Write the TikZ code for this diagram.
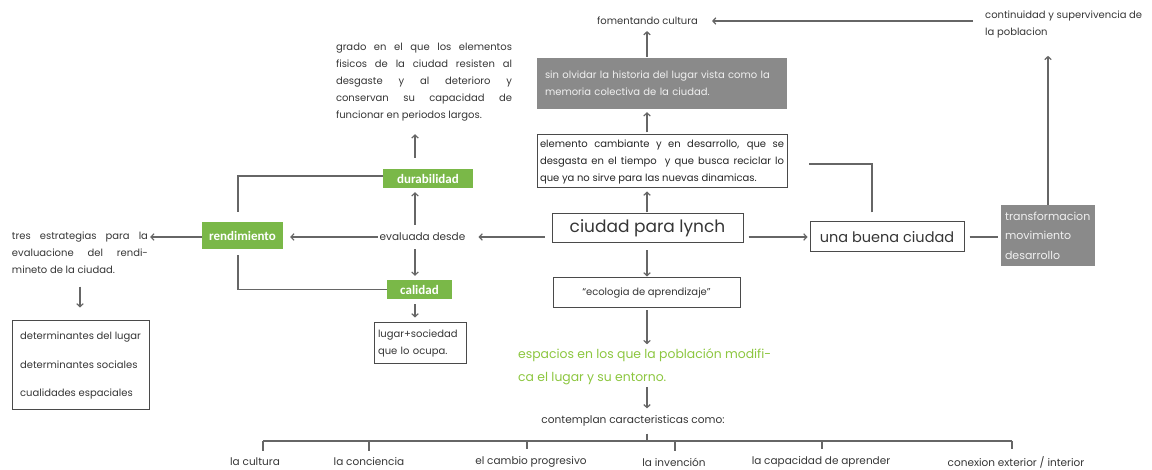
\documentclass[tikz,border=0pt]{standalone}
\usepackage{fontspec}
\setmainfont{Poppins}
\newfontfamily\calib{Carlito}
\usetikzlibrary{arrows.meta}
\definecolor{linec}{HTML}{666666}
\definecolor{txt}{HTML}{363636}
\definecolor{boxc}{HTML}{4A4A4A}
\definecolor{greenc}{HTML}{7AB848}
\definecolor{lgreen}{HTML}{8CC63F}
\definecolor{grayc}{HTML}{8A8A8A}
\newcommand{\fsz}[2]{\fontsize{#1}{#2}\selectfont}
\tikzset{
  conn/.style={draw=linec, line width=1.2pt},
  arr/.style={conn, -{Straight Barb[length=3pt,width=6.5pt]}},
  txtn/.style={text=txt, inner sep=2pt, font=\fsz{10}{17}},
  leaf/.style={text=txt, inner sep=2pt, font=\fsz{10.5}{17}},
  wbox/.style={draw=boxc, line width=1pt, fill=white, text=txt, inner sep=2pt, font=\fsz{10}{17}},
  gbox/.style={fill=greenc, text=white, inner sep=0pt, font=\calib\bfseries\fsz{13}{15}},
  dbox/.style={fill=grayc, text=white!94!black, inner sep=0pt},
}
\begin{document}
\begin{tikzpicture}[x=1pt,y=-1pt]
\useasboundingbox (0,0) rectangle (1152,470);
% nodes
\node[txtn] (fom) at (647.5,21) {fomentando cultura};
\node[txtn, anchor=west, align=left] (cont) at (983,24) {continuidad y supervivencia de\\la poblacion};
\node[txtn, text width=176pt, align=justify] (grado) at (424,82) {grado en el que los elementos\linebreak fisicos de la ciudad resisten al\linebreak desgaste y al deterioro y\linebreak conservan su capacidad de\linebreak funcionar en periodos largos.};
\node[dbox, minimum width=250pt, minimum height=51pt, text width=234pt, inner xsep=8pt, align=left, font=\fsz{10}{17}] (sin) at (662,83.5) {sin olvidar la historia del lugar vista como la\\memoria colectiva de la ciudad.};
\node[wbox, text width=244pt, inner xsep=3pt, align=justify, minimum height=53pt, text=black!85] (elem) at (662,161.5) {elemento cambiante y en desarrollo, que se\linebreak desgasta en el tiempo \ y que busca reciclar lo\linebreak que ya no sirve para las nuevas dinamicas.};
\node[gbox, minimum width=90pt, minimum height=19pt] (dur) at (428,179) {durabilidad};
\node[wbox, minimum width=191pt, minimum height=29pt, font=\fsz{17}{20}] (lynch) at (647.5,228.5) {ciudad para lynch};
\node[txtn, font=\fsz{10.5}{17}] (eval) at (422.5,237) {evaluada desde};
\node[gbox, minimum width=81pt, minimum height=27pt] (rend) at (242.5,235.5) {rendimiento};
\node[txtn, text width=136pt, align=justify] (tres) at (80,252.5) {tres estrategias para la\linebreak evaluacione del rendi-\linebreak mineto de la ciudad.};
\node[wbox, minimum width=137pt, minimum height=89pt, align=left, font=\fsz{10}{28.5}] (det) at (80.5,365.5) {determinantes del lugar\\determinantes sociales\\cualidades espaciales};
\node[gbox, minimum width=65pt, minimum height=19pt] (cal) at (419.5,289.5) {calidad};
\node[wbox, minimum width=92pt, minimum height=41pt, text width=84pt, inner xsep=4pt, align=left] (lugar) at (420,343.5) {lugar+sociedad\\que lo ocupa.};
\node[wbox, minimum width=187pt, minimum height=30pt] (eco) at (646.5,293) {“ecologia de aprendizaje”};
\node[txtn, text=lgreen, anchor=west, align=left, font=\fsz{12.4}{23}] (esp) at (516,366.5) {espacios en los que la población modifi-\\ca el lugar y su entorno.};
\node[txtn, font=\fsz{10.6}{17}] (contemp) at (633,421) {contemplan caracteristicas como:};
\node[wbox, minimum width=154pt, minimum height=30pt, font=\fsz{14.5}{17}] (buena) at (887,237) {una buena ciudad};
\node[dbox, minimum width=94pt, minimum height=61pt, text width=86pt, inner xsep=4pt, align=left, font=\fsz{11}{19.5}] (trans) at (1048,235.5) {transformacion\\movimiento\\desarrollo};
% tree labels
\node[leaf] (t1) at (255,462) {la cultura};
\node[leaf] (t2) at (369,462) {la conciencia};
\node[leaf] (t3) at (531,462) {el cambio progresivo};
\node[leaf] (t4) at (674,462) {la invención};
\node[leaf] (t5) at (821,462) {la capacidad de aprender};
\node[leaf] (t6) at (1016,462) {conexion exterior / interior};
% helper coordinates
\coordinate (cx) at (647,0);
\coordinate (hy) at (0,237);
\coordinate (vx) at (415,237);
\coordinate (vl) at (238,237);
\coordinate (tj) at (647,441);
\coordinate (d1) at (263,441);
\coordinate (d2) at (369,441);
\coordinate (d3) at (527,441);
\coordinate (d4) at (675,441);
\coordinate (d5) at (822,441);
\coordinate (d6) at (1012,441);
% connectors
\draw[arr, shorten <=10pt, shorten >=12pt] (cont.west |- fom.east) -- (fom.east);
\draw[arr, shorten <=1pt, shorten >=4pt] (sin.north -| cx) -- (fom.south -| cx);
\draw[arr, shorten <=2pt, shorten >=3pt] (elem.north -| cx) -- (sin.south -| cx);
\draw[arr, shorten <=1pt, shorten >=3pt] (lynch.north -| cx) -- (elem.south -| cx);
\draw[arr, shorten <=7pt, shorten >=11pt] (lynch.west |- hy) -- (eval.east |- hy);
\draw[arr, shorten <=5pt, shorten >=2pt] (lynch.east |- hy) -- (buena.west |- hy);
\draw[conn, shorten <=5pt, shorten >=3pt] (buena.east |- hy) -- (trans.west |- hy);
\draw[arr, shorten >=16pt] (trans.north) -- (trans.north |- cont.south);
\draw[conn] ([xshift=-15pt,yshift=9pt]buena.north) |- ([xshift=21pt,yshift=-2.5pt]elem.east);
\draw[arr, shorten <=6pt, shorten >=3.5pt] (eval.north -| vx) -- (dur.south -| vx);
\draw[arr, shorten <=11.5pt, shorten >=11pt] (dur.north -| vx) -- (grado.south -| vx);
\draw[conn, shorten >=10pt] ([yshift=3pt]dur.west) -| (rend.north -| vl);
\draw[arr, shorten >=7pt] (eval.west |- hy) -- (rend.east |- hy);
\draw[arr] (rend.west |- hy) -- (tres.east |- hy);
\draw[arr, shorten <=11pt, shorten >=13pt] (tres.south) -- (det.north -| tres.south);
\draw[conn, shorten <=6pt] (rend.south -| vl) |- (cal.west);
\draw[arr, shorten <=6pt, shorten >=4pt] (eval.south -| vx) -- (cal.north -| vx);
\draw[arr, shorten <=5pt, shorten >=5pt] (cal.south -| vx) -- (lugar.north -| vx);
\draw[arr, shorten <=7pt, shorten >=1pt] (lynch.south -| cx) -- (eco.north -| cx);
\draw[arr, shorten <=2pt, shorten >=2pt] (eco.south -| cx) -- (esp.north -| cx);
\draw[arr, shorten >=5pt] (esp.south -| cx) -- (contemp.north -| cx);
\draw[conn, shorten <=5pt] (tj |- contemp.south) -- (tj);
\draw[conn] (d1) -- (d6);
\foreach \d/\t in {d1/t1,d2/t2,d3/t3,d4/t4,d5/t5,d6/t6}{
  \draw[conn, shorten >=5pt] (\d) -- (\d |- \t.north);
}
\end{tikzpicture}
\end{document}
